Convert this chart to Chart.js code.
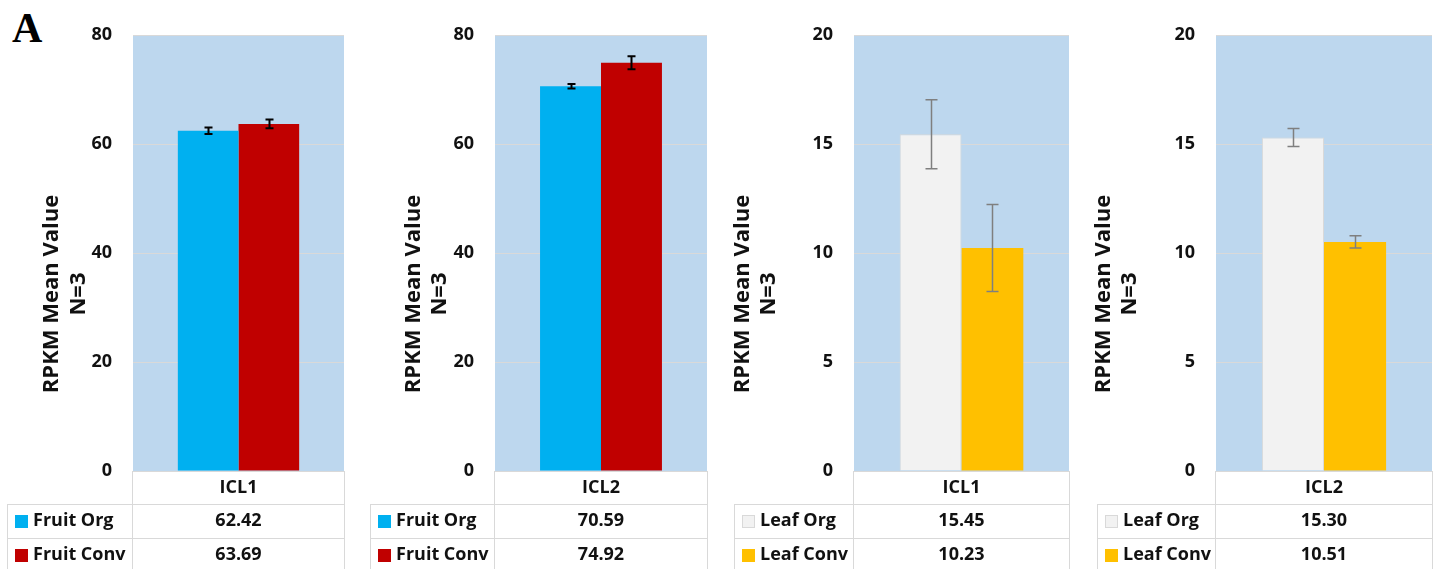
<!DOCTYPE html>
<html>
<head>
<meta charset="utf-8">
<script src="https://cdn.jsdelivr.net/npm/chart.js@4.4.1/dist/chart.umd.min.js"></script>
<style>
  html, body { margin: 0; padding: 0; background: #ffffff; }
  #wrap { position: relative; width: 1440px; height: 569px; overflow: hidden; }
  #wrap canvas { position: absolute; top: 0; }
  #panelTag { position: absolute; left: 12px; top: 4px; font: bold 42px "Liberation Serif", "Times New Roman", serif; color: #000; }
</style>
</head>
<body>
<div id="wrap">
  <div id="panelTag">A</div>
</div>
<script>
// RPKM means (N=3) for two gene loci in fruit and leaf tissue, organic vs conventional
const panelCategories = ['ICL1', 'ICL2', 'ICL1', 'ICL2'];
const orgNames = ['Fruit Org', 'Fruit Org', 'Leaf Org', 'Leaf Org'];
const convNames = ['Fruit Conv', 'Fruit Conv', 'Leaf Conv', 'Leaf Conv'];
const orgValues = [62.42, 70.59, 15.45, 15.30];
const convValues = [63.69, 74.92, 10.23, 10.51];
const orgErrors = [0.6, 0.4, 1.58, 0.41];
const convErrors = [0.8, 1.2, 2.0, 0.28];
const yMaxValues = [80, 80, 20, 20];
const yStepValues = [20, 20, 5, 5];
const yTitleLines = ['RPKM Mean Value', 'N=3'];

// Styling per panel
const orgColors = ['#00b0f0', '#00b0f0', '#f2f2f2', '#f2f2f2'];
const convColors = ['#c00000', '#c00000', '#ffc000', '#ffc000'];
const orgBorders = ['#00b0f0', '#00b0f0', '#d9d9d9', '#d9d9d9'];
const errStyles = [
  { color: '#000000', width: 2, cap: 4 },
  { color: '#000000', width: 2, cap: 4 },
  { color: '#7f7f7f', width: 1.5, cap: 6 },
  { color: '#7f7f7f', width: 1.5, cap: 6 }
];
// Layout: plot-area left edge, plot width, legend column width, title offsets
const areaLefts = [133, 495, 854, 1216];
const areaWidths = [211, 212, 215, 216];
const legendWidths = [126, 125, 120, 119];
const titleOffsets = [[-81, -54], [-81, -55], [-111, -85], [-112, -86]];

const FONT = '"Open Sans", "Liberation Sans", Arial, sans-serif';
const TEXT = '#111111';
const RULE = '#d9d9d9';
const AXIS_W = 133;
const CANVAS_H = 569;
const AREA_TOP = 35;
const AREA_BOTTOM = 471;

const decorPlugin = {
  id: 'panelDecor',
  beforeDraw(chart, args, opts) {
    const a = chart.chartArea, ctx = chart.ctx;
    ctx.save();
    ctx.fillStyle = '#bdd7ee';
    ctx.fillRect(a.left, a.top, a.right - a.left, a.bottom - a.top);
    ctx.restore();
  },
  afterDatasetsDraw(chart, args, opts) {
    const ctx = chart.ctx, y = chart.scales.y;
    const st = opts.err;
    ctx.save();
    ctx.strokeStyle = st.color;
    ctx.lineWidth = st.width;
    chart.data.datasets.forEach((ds, i) => {
      const bar = chart.getDatasetMeta(i).data[0];
      const v = ds.data[0], e = ds.errors[0];
      const yt = y.getPixelForValue(v + e), yb = y.getPixelForValue(v - e);
      const x = Math.round(bar.x) + 0.5;
      ctx.beginPath();
      ctx.moveTo(x, yt); ctx.lineTo(x, yb);
      ctx.moveTo(x - st.cap, yt); ctx.lineTo(x + st.cap, yt);
      ctx.moveTo(x - st.cap, yb); ctx.lineTo(x + st.cap, yb);
      ctx.stroke();
    });
    ctx.restore();
  },
  afterDraw(chart, args, opts) {
    const ctx = chart.ctx, a = chart.chartArea;
    const L = a.left, R = a.right, B = a.bottom;
    const legL = L - opts.legendWidth;
    const r1 = B + 33, r2 = B + 67, end = chart.height;
    ctx.save();
    // table rules
    ctx.strokeStyle = RULE;
    ctx.lineWidth = 1;
    ctx.beginPath();
    ctx.moveTo(L - 0.5, B); ctx.lineTo(L - 0.5, end);
    ctx.moveTo(R + 0.5, B); ctx.lineTo(R + 0.5, end);
    ctx.moveTo(legL + 0.5, r1); ctx.lineTo(legL + 0.5, end);
    ctx.moveTo(legL, r1 + 0.5); ctx.lineTo(R + 1, r1 + 0.5);
    ctx.moveTo(legL, r2 + 0.5); ctx.lineTo(R + 1, r2 + 0.5);
    ctx.stroke();
    // header and values
    ctx.fillStyle = TEXT;
    ctx.font = 'bold 18px ' + FONT;
    ctx.textAlign = 'center';
    ctx.textBaseline = 'middle';
    const cx = (L + R) / 2;
    ctx.fillText(chart.data.labels[0], cx, B + 17);
    const rows = chart.data.datasets;
    const rowMid = [r1 + 17, r2 + 17];
    rows.forEach((ds, i) => {
      ctx.fillStyle = TEXT;
      ctx.textAlign = 'center';
      ctx.fillText(ds.data[0].toFixed(2), cx, rowMid[i]);
      // legend swatch + name
      ctx.fillStyle = ds.backgroundColor;
      ctx.fillRect(legL + 8, rowMid[i] - 6, 13, 13);
      if (ds.borderColor !== ds.backgroundColor) {
        ctx.strokeStyle = ds.borderColor;
        ctx.strokeRect(legL + 8.5, rowMid[i] - 5.5, 12, 12);
      }
      ctx.fillStyle = TEXT;
      ctx.textAlign = 'left';
      ctx.fillText(ds.label, legL + 26, rowMid[i]);
    });
    // rotated axis title
    ctx.font = 'bold 22px ' + FONT;
    ctx.textAlign = 'center';
    opts.titleLines.forEach((line, k) => {
      ctx.save();
      ctx.translate(L + opts.titleOffsets[k], 294);
      ctx.rotate(-Math.PI / 2);
      ctx.fillText(line, 0, 0);
      ctx.restore();
    });
    ctx.restore();
  }
};

const wrap = document.getElementById('wrap');
panelCategories.forEach((cat, p) => {
  const cv = document.createElement('canvas');
  const width = AXIS_W + areaWidths[p] + 8;
  cv.width = width;
  cv.height = CANVAS_H;
  cv.style.left = (areaLefts[p] - AXIS_W) + 'px';
  cv.style.width = width + 'px';
  cv.style.height = CANVAS_H + 'px';
  wrap.appendChild(cv);

  new Chart(cv, {
    type: 'bar',
    data: {
      labels: [cat],
      datasets: [
        { label: orgNames[p], data: [orgValues[p]], errors: [orgErrors[p]],
          backgroundColor: orgColors[p], borderColor: orgBorders[p],
          borderWidth: orgBorders[p] === orgColors[p] ? 0 : 1 },
        { label: convNames[p], data: [convValues[p]], errors: [convErrors[p]],
          backgroundColor: convColors[p], borderColor: convColors[p], borderWidth: 0 }
      ]
    },
    options: {
      responsive: false,
      animation: false,
      devicePixelRatio: 1,
      categoryPercentage: 0.575,
      barPercentage: 1,
      layout: { padding: { top: AREA_TOP, bottom: CANVAS_H - AREA_BOTTOM, left: 0, right: 8 } },
      plugins: {
        legend: { display: false },
        tooltip: { enabled: false },
        panelDecor: {
          err: errStyles[p],
          legendWidth: legendWidths[p],
          titleOffsets: titleOffsets[p],
          titleLines: yTitleLines
        }
      },
      scales: {
        x: { display: false },
        y: {
          min: 0,
          max: yMaxValues[p],
          ticks: { stepSize: yStepValues[p], padding: 21, color: TEXT,
                   font: { family: FONT, size: 18, weight: 'bold' } },
          grid: { color: RULE, drawTicks: false, lineWidth: 1 },
          border: { display: false },
          afterFit(scale) { scale.width = AXIS_W; }
        }
      }
    },
    plugins: [decorPlugin]
  });
});
</script>
</body>
</html>
